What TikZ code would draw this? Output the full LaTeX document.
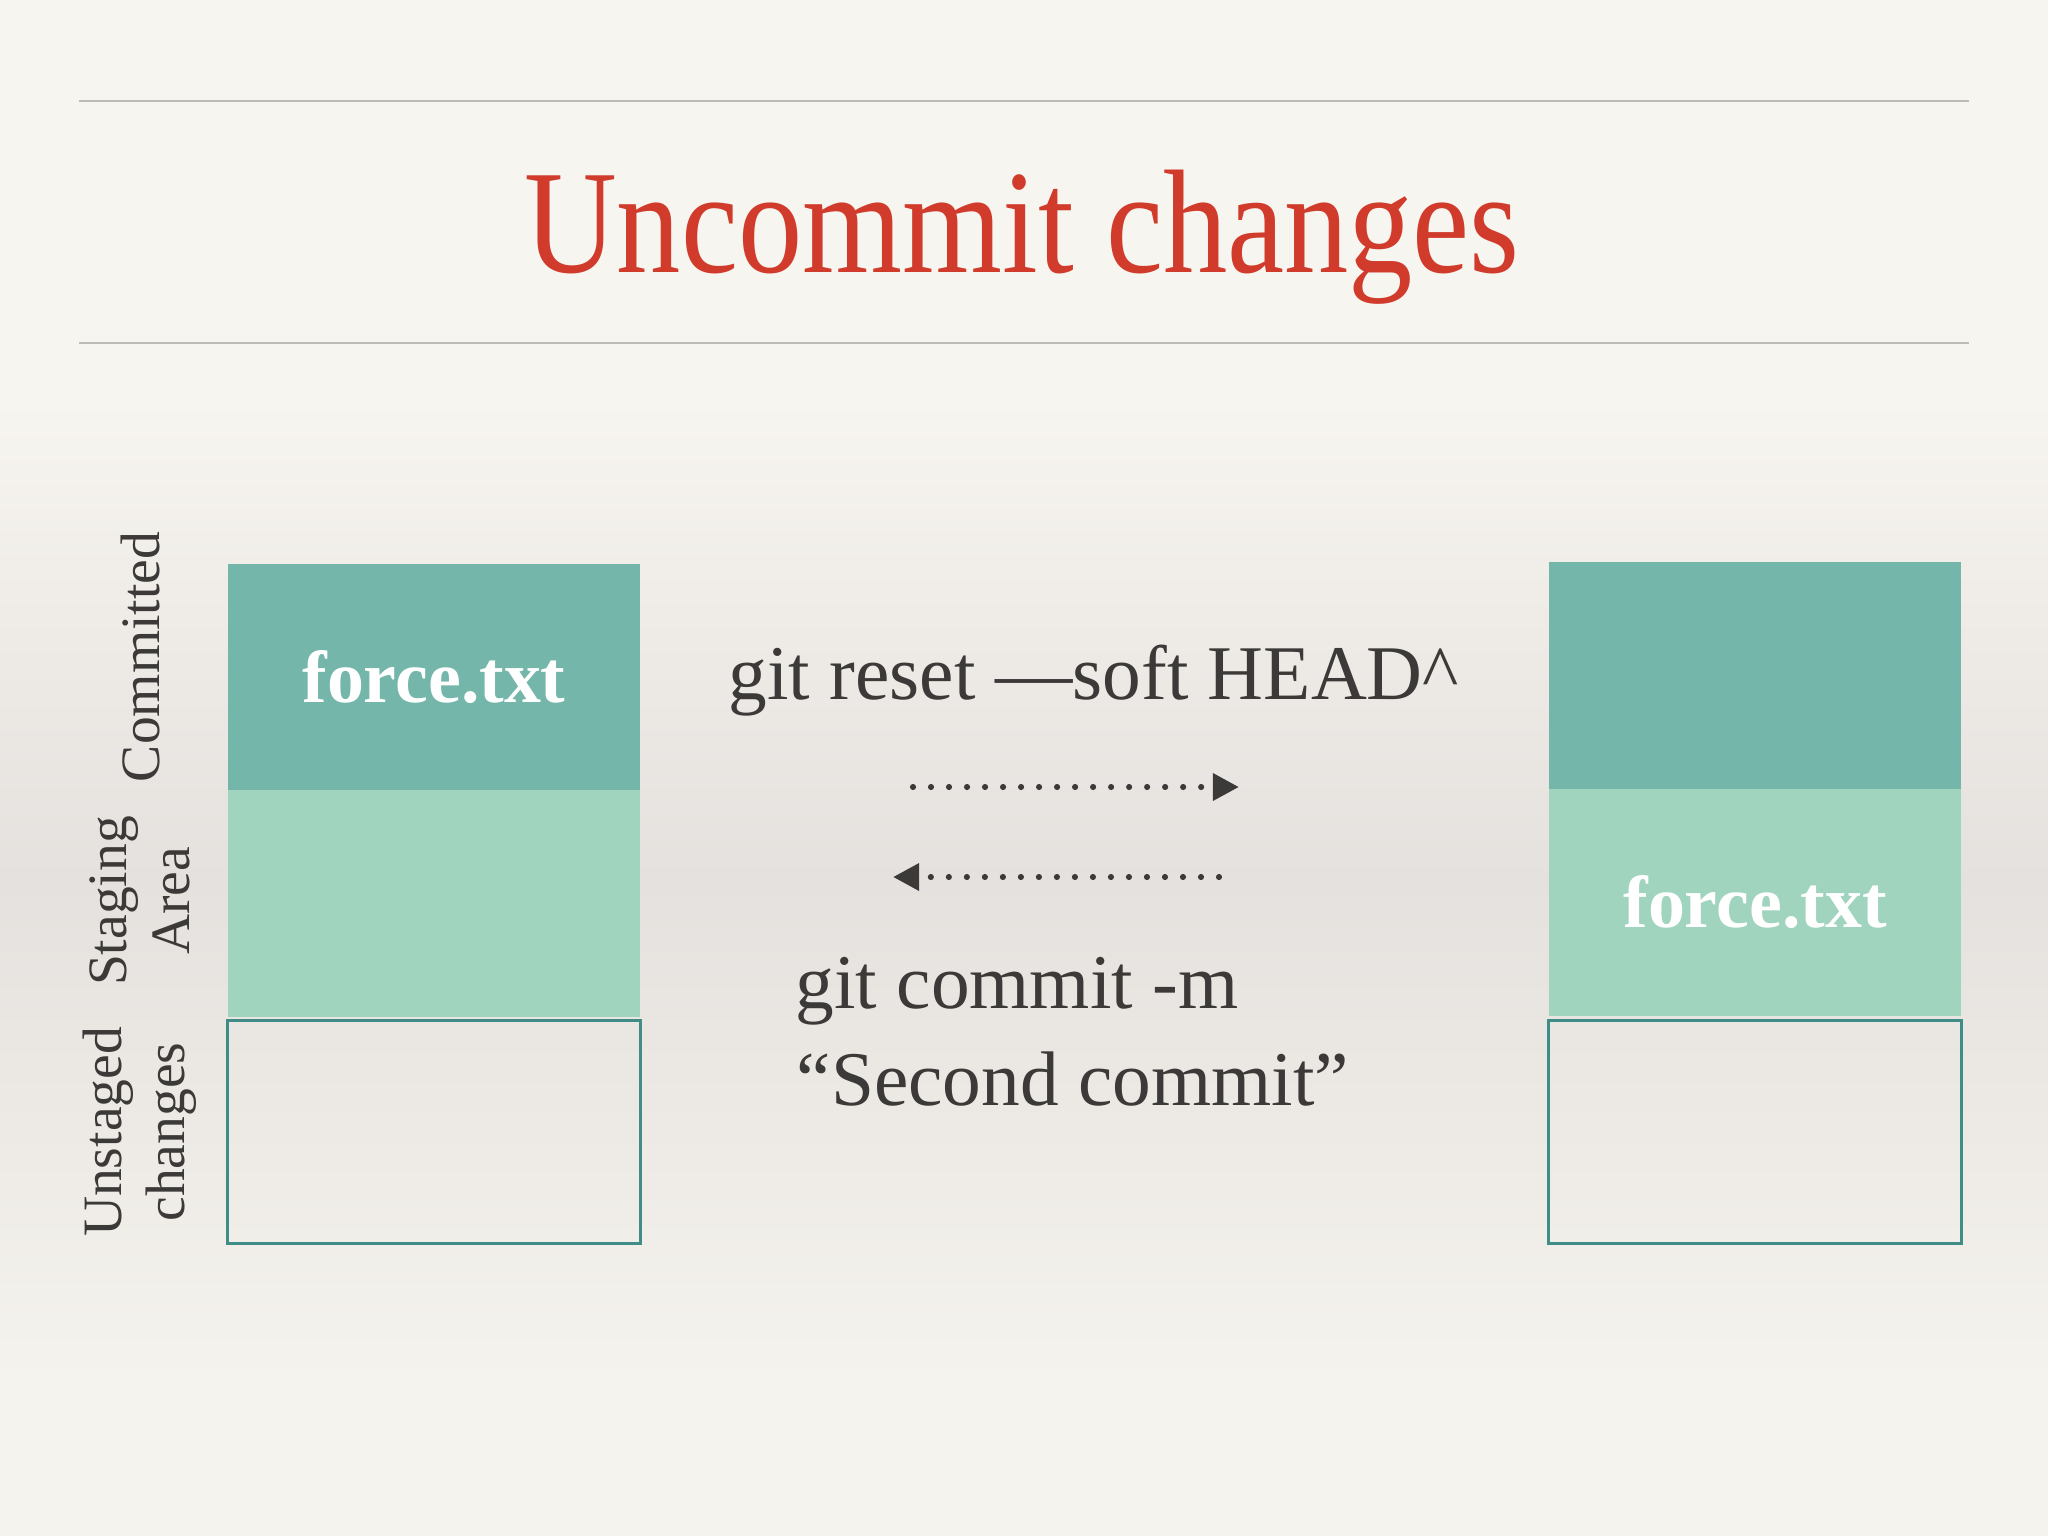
\documentclass[tikz,border=0pt]{standalone}
\usepackage{fontspec}
\setmainfont{Liberation Serif}
\usepackage{graphicx}
\usetikzlibrary{arrows.meta}

\definecolor{titlered}{RGB}{208,59,43}
\definecolor{inktext}{RGB}{60,58,56}
\definecolor{commitgreen}{RGB}{116,182,170}
\definecolor{stagegreen}{RGB}{160,212,191}
\definecolor{unstagedline}{RGB}{64,140,134}
\definecolor{rulegrey}{RGB}{190,188,182}
\definecolor{bgtop}{RGB}{247,245,240}
\definecolor{bgmid}{RGB}{229,225,222}
\definecolor{bgbot}{RGB}{245,243,237}

\tikzset{
    areabox/.style={minimum width=4.12cm, minimum height=2.26cm, inner sep=0pt, outer sep=0pt, text=white, font=\fontsize{21}{25}\selectfont\bfseries},
    committedbox/.style={areabox, fill=commitgreen},
    stagingbox/.style={areabox, fill=stagegreen},
    unstagedbox/.style={areabox, draw=unstagedline, line width=0.9pt, minimum height=2.23cm},
    sidelabel/.style={rotate=90, align=center, inner sep=0pt, text=inktext, font=\fontsize{15.8}{17.8}\selectfont},
    cmdtext/.style={anchor=base west, inner sep=0pt, text=inktext, font=\fontsize{22}{26}\selectfont},
    dotarrow/.style={draw=inktext, line width=1.75pt, line cap=round, dash pattern=on 0pt off 0.18cm, -{Triangle[length=0.26cm,width=0.26cm]}}
}

\begin{document}
\begin{tikzpicture}[x=0.01cm, y=-0.01cm]
    % Background
    \fill[bgtop] (0,0) rectangle (2048,400);
    \shade[top color=bgtop, bottom color=bgmid] (0,399) rectangle (2048,880);
    \shade[top color=bgmid, bottom color=bgbot] (0,879) rectangle (2048,1380);
    \fill[bgbot] (0,1379) rectangle (2048,1536);
    \useasboundingbox (0,0) rectangle (2048,1536);

    \coordinate (ruleTopL) at (79,101);
    \coordinate (ruleTopR) at (1969,101);
    \coordinate (ruleBotL) at (79,343);
    \coordinate (ruleBotR) at (1969,343);

    \coordinate (fwdStart) at (913,787);
    \coordinate (fwdEnd) at (1239,787);
    \coordinate (backStart) at (1219,877);
    \coordinate (backEnd) at (893,877);

    % Title
    \draw[rulegrey, line width=0.6pt] (ruleTopL) -- (ruleTopR);
    \draw[rulegrey, line width=0.6pt] (ruleBotL) -- (ruleBotR);
    \node[anchor=base, inner sep=0pt, text=titlered, font=\fontsize{42}{48}\selectfont] (title) at (1022,272) {\scalebox{0.87}[1]{Uncommit changes}};

    % Draw
    \node[committedbox] (leftCommitted) at (434,677) {\raisebox{-1pt}{force.txt}};
    \node[stagingbox] (leftStaging) at (434,903.5) {};
    \node[unstagedbox] (leftUnstaged) at (434,1132) {};

    \node[committedbox] (rightCommitted) at (1755,675.5) {};
    \node[stagingbox] (rightStaging) at (1755,902.5) {\raisebox{-1pt}{force.txt}};
    \node[unstagedbox] (rightUnstaged) at (1755,1132) {};

    \draw[dotarrow] (fwdStart) -- (fwdEnd);
    \draw[dotarrow] (backStart) -- (backEnd);

    % Labeling
    \foreach \name/\ypos/\txt in {sideCommitted/657/{Committed}, sideStaging/901/{Staging\\Area}, sideUnstaged/1132/{Unstaged\\changes}}
        \node[sidelabel] (\name) at (140,\ypos) {\txt};

    \node[cmdtext] (resetCmd) at (728,699) {git reset —soft HEAD\textasciicircum};
    \node[cmdtext] (commitCmd) at (795,1008) {git commit -m};
    \node[cmdtext] (commitMsg) at (796,1105) {“Second commit”};
\end{tikzpicture}
\end{document}
